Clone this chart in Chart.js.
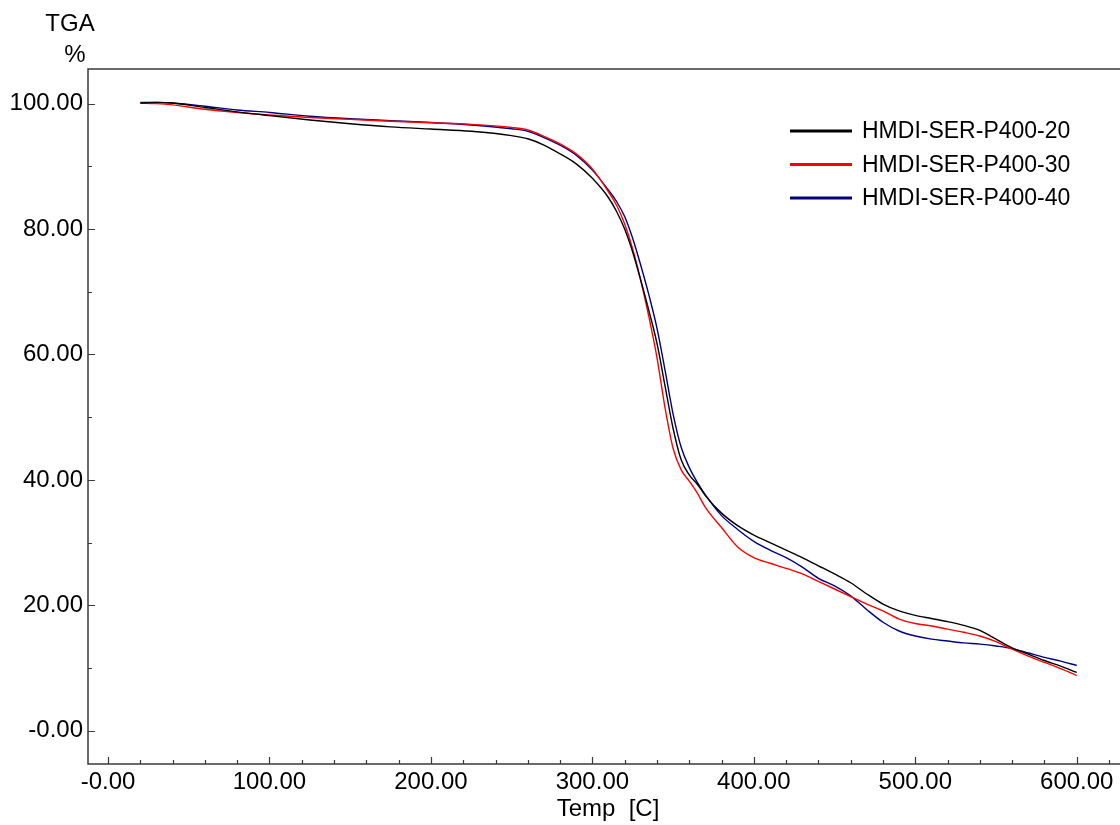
<!DOCTYPE html>
<html>
<head>
<meta charset="utf-8">
<title>TGA</title>
<script src="https://cdn.jsdelivr.net/npm/chart.js@4.4.1/dist/chart.umd.min.js"></script>
<style>
  html, body { margin: 0; padding: 0; background: #fff; }
  #wrap { width: 1120px; height: 825px; }
</style>
</head>
<body>
<div id="wrap"><canvas id="tgaChart" width="1120" height="825"></canvas></div>
<script>
// Data (temperature in C, weight in %)
const temps = [20, 30, 40, 60, 80, 100, 125, 150, 175, 200, 225, 250, 260, 270, 280, 290, 300, 310, 315, 320,
    325, 330, 335, 340, 345, 350, 355, 360, 365, 370, 380, 390, 400, 410, 420, 430, 440, 450, 460, 470,
    480, 490, 500, 510, 520, 530, 540, 550, 560, 570, 580, 590, 600];
const tga20 = [100.1, 100.2, 100.1, 99.4, 98.7, 98.1, 97.4, 96.8, 96.3, 95.95, 95.6, 94.9, 94.4, 93.4, 92.0, 90.4, 88.1, 85.0, 82.8, 80.0,
    76.3, 71.8, 67.0, 61.8, 55.0, 48.2, 43.2, 40.8, 39.3, 37.5, 34.7, 32.7, 31.2, 30.0, 28.8, 27.6, 26.3, 25.0, 23.6, 21.8,
    20.2, 19.1, 18.4, 17.9, 17.4, 16.8, 16.0, 14.6, 13.2, 12.2, 11.2, 10.3, 9.3];
const tga30 = [100.1, 100.0, 99.8, 99.1, 98.6, 98.2, 97.8, 97.5, 97.2, 96.95, 96.7, 96.2, 95.8, 94.8, 93.6, 92.0, 89.6, 85.9, 83.8, 80.8,
    76.8, 71.8, 66.0, 59.5, 51.5, 45.0, 41.6, 39.8, 37.9, 35.6, 32.4, 29.3, 27.6, 26.7, 25.9, 25.0, 23.8, 22.6, 21.4, 20.2,
    19.1, 17.8, 17.1, 16.7, 16.2, 15.7, 15.1, 14.2, 13.0, 11.9, 10.9, 9.9, 8.8];
const tga40 = [100.2, 100.2, 100.1, 99.6, 99.0, 98.6, 98.0, 97.6, 97.3, 97.0, 96.6, 96.0, 95.6, 94.6, 93.4, 91.8, 89.4, 86.2, 84.4, 82.0,
    78.5, 74.2, 69.5, 64.2, 57.5, 50.5, 45.2, 42.0, 39.6, 37.6, 34.3, 32.1, 30.2, 28.8, 27.6, 26.1, 24.3, 23.1, 21.5, 19.3,
    17.3, 15.9, 15.1, 14.6, 14.3, 14.0, 13.8, 13.5, 13.1, 12.4, 11.7, 11.1, 10.4];
const seriesLabels = ['HMDI-SER-P400-20', 'HMDI-SER-P400-30', 'HMDI-SER-P400-40'];
const seriesColors = ['#000000', '#ff0000', '#00007f'];

// Axis ticks
const xMajorTicks = [0, 100, 200, 300, 400, 500, 600];
const xMinorTicks = [20, 40, 60, 80, 120, 140, 160, 180, 220, 240, 260, 280, 320, 340, 360, 380, 420, 440, 460, 480, 520, 540, 560, 580, 620];
const yMajorTicks = [0, 20, 40, 60, 80, 100];
const yMinorTicks = [10, 30, 50, 70, 90];

const FONT = '"Liberation Sans", Arial, sans-serif';

function fmt(v) {
    // the instrument software prints zero as "-0.00"
    return v === 0 ? '-0.00' : v.toFixed(2);
}

function toPoints(ys) {
    return temps.map((t, i) => ({ x: t, y: ys[i] }));
}

// Frame, inward tick marks, axis titles and legend
const decorPlugin = {
    id: 'decor',
    afterDraw(chart) {
        const ctx = chart.ctx;
        const a = chart.chartArea;
        const xs = chart.scales.x;
        const ys = chart.scales.y;
        ctx.save();
        ctx.strokeStyle = '#3a3a3a';
        ctx.lineWidth = 1.5;
        ctx.beginPath();
        ctx.moveTo(a.right, a.top);
        ctx.lineTo(a.left, a.top);
        ctx.lineTo(a.left, a.bottom);
        ctx.lineTo(a.right, a.bottom);
        ctx.stroke();

        ctx.lineWidth = 1.2;
        ctx.beginPath();
        xMajorTicks.forEach(v => {
            const px = Math.round(xs.getPixelForValue(v)) + 0.5;
            ctx.moveTo(px, a.bottom); ctx.lineTo(px, a.bottom - 7);
        });
        xMinorTicks.forEach(v => {
            const px = Math.round(xs.getPixelForValue(v)) + 0.5;
            ctx.moveTo(px, a.bottom); ctx.lineTo(px, a.bottom - 4);
        });
        yMajorTicks.forEach(v => {
            const py = Math.round(ys.getPixelForValue(v)) + 0.5;
            ctx.moveTo(a.left, py); ctx.lineTo(a.left + 7, py);
        });
        yMinorTicks.forEach(v => {
            const py = Math.round(ys.getPixelForValue(v)) + 0.5;
            ctx.moveTo(a.left, py); ctx.lineTo(a.left + 4, py);
        });
        ctx.stroke();

        // axis titles
        ctx.fillStyle = '#000';
        ctx.font = '24px ' + FONT;
        ctx.textAlign = 'center';
        ctx.textBaseline = 'middle';
        ctx.fillText('TGA', 70, 24);
        ctx.fillText('%', 75, 55);
        ctx.fillText('Temp  [C]', 608, 809);

        // legend
        ctx.font = '23px ' + FONT;
        ctx.textAlign = 'left';
        chart.data.datasets.forEach((ds, i) => {
            const ly = 131 + i * 33.5;
            ctx.strokeStyle = ds.borderColor;
            ctx.lineWidth = 3;
            ctx.beginPath();
            ctx.moveTo(790, ly); ctx.lineTo(852, ly);
            ctx.stroke();
            ctx.fillText(ds.label, 862, ly + 1);
        });
        ctx.restore();
    }
};

function initChart() {
    const canvas = document.getElementById('tgaChart');
    const datasets = [tga20, tga30, tga40].map((ys, i) => ({
        label: seriesLabels[i],
        data: toPoints(ys),
        borderColor: seriesColors[i],
        backgroundColor: seriesColors[i],
        borderWidth: 1.4,
        pointRadius: 0,
        cubicInterpolationMode: 'monotone',
        fill: false
    }));

    new Chart(canvas, {
        type: 'line',
        data: { datasets: datasets },
        plugins: [decorPlugin],
        options: {
            responsive: false,
            animation: false,
            devicePixelRatio: 1,
            layout: { padding: { top: 69, left: 0, right: 0, bottom: 0 } },
            plugins: {
                legend: { display: false },
                tooltip: { enabled: false }
            },
            scales: {
                x: {
                    type: 'linear',
                    min: -12.4,
                    max: 626.8,
                    grid: { display: false, drawTicks: false },
                    border: { display: false },
                    afterBuildTicks: scale => {
                        scale.ticks = xMajorTicks.map(v => ({ value: v }));
                    },
                    afterFit: scale => { scale.height = 61; },
                    ticks: {
                        autoSkip: false,
                        maxRotation: 0,
                        padding: 4,
                        color: '#000',
                        font: { family: FONT, size: 24 },
                        callback: v => fmt(v)
                    }
                },
                y: {
                    type: 'linear',
                    min: -5.31,
                    max: 105.53,
                    grid: { display: false, drawTicks: false },
                    border: { display: false },
                    afterBuildTicks: scale => {
                        scale.ticks = yMajorTicks.map(v => ({ value: v }));
                    },
                    afterFit: scale => { scale.width = 88; },
                    ticks: {
                        autoSkip: false,
                        padding: 5,
                        color: '#000',
                        font: { family: FONT, size: 24 },
                        callback: v => fmt(v)
                    }
                }
            }
        }
    });
}

document.addEventListener('DOMContentLoaded', initChart);
</script>
</body>
</html>
